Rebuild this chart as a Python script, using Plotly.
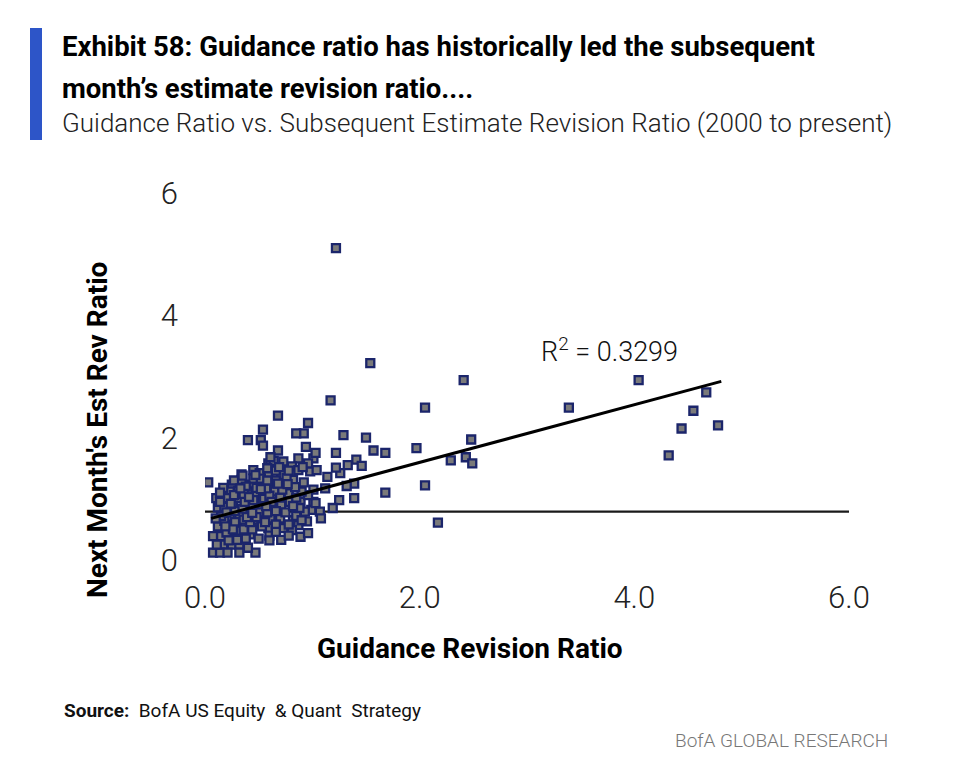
import plotly.graph_objects as go

# Scatter data: Guidance Revision Ratio (x) vs Next Month's Est Rev Ratio (y)
guidance_ratio = [
    1.22, 1.54, 2.41, 4.04, 4.67, 4.55, 4.44, 4.78, 4.32, 3.39, 2.05, 1.17, 2.48, 1.97, 2.29, 2.43, 2.49,
    2.05, 2.17, 1.68, 1.68, 1.57, 1.50, 1.29, 1.22, 1.41, 1.46, 1.33, 1.39, 1.39, 1.32, 1.25, 1.19, 1.26,
    1.22, 1.14, 1.12, 1.07, 1.08, 0.68, 0.96, 0.92, 0.85, 0.54, 0.40, 0.52, 0.54, 0.68, 0.03, 0.94,
    1.01, 0.98, 1.04, 1.01, 1.01, 0.99, 1.03, 1.03, 0.34, 0.59,
    0.45, 0.34, 0.43, 0.25, 0.31, 0.23, 0.40, 0.105, 0.20, 0.31, 0.48, 0.12, 0.18, 0.26, 0.40, 0.32, 0.48,
    0.23, 0.12, 0.23, 0.37, 0.48, 0.075, 0.15, 0.28, 0.42, 0.17, 0.25, 0.32, 0.075, 0.14, 0.21, 0.32, 0.47,
    0.87, 0.61, 0.73, 0.81, 0.96, 0.51, 0.59, 0.71, 0.87, 0.59, 0.50, 0.73, 0.82, 0.54, 0.65, 0.78, 0.89,
    0.96, 0.53, 0.64, 0.71, 0.79, 0.93, 0.51, 0.61, 0.70, 0.82, 0.59, 0.73, 0.87, 0.95, 0.53, 0.71, 0.89,
    0.96, 0.81,
    0.20, 0.30, 0.36, 0.45, 0.28, 0.18, 0.15, 0.28, 0.35, 0.43, 0.37, 0.45, 0.55, 0.60, 0.70, 0.85, 0.90,
    0.84, 0.66, 0.76, 0.45, 0.38, 0.52, 0.57, 0.27, 0.17, 0.14, 0.20, 0.58, 0.66, 0.75, 0.85, 0.88, 0.56,
    0.66, 0.44, 0.38, 0.50, 0.60, 0.60, 0.40, 0.36, 0.78, 0.90, 0.78, 0.66, 0.92, 0.78, 0.66, 0.91, 0.58,
    0.72, 0.62, 0.50, 0.42, 0.30, 0.22, 0.11, 0.10, 0.27, 0.36, 0.48, 0.48, 0.82, 0.64, 0.61,
    0.24, 0.33, 0.41, 0.52, 0.14, 0.35, 0.47, 0.58, 0.69, 0.26, 0.39, 0.57, 0.68, 0.77, 0.44, 0.19,
]
next_month_ratio = [
    5.10, 3.22, 2.94, 2.94, 2.74, 2.44, 2.15, 2.20, 1.71, 2.49, 2.49, 2.61, 1.97, 1.83, 1.63, 1.68, 1.58,
    1.22, 0.61, 1.10, 1.75, 1.79, 2.00, 2.04, 1.75, 1.64, 1.54, 1.55, 1.25, 1.01, 1.21, 0.98, 0.85, 1.42,
    1.51, 1.36, 1.17, 0.79, 0.68, 2.36, 2.24, 2.07, 2.07, 2.13, 1.96, 1.96, 1.87, 1.79, 1.27, 1.85,
    1.66, 1.45, 1.47, 1.15, 0.95, 0.82, 0.93, 1.75, 1.40, 1.58,
    1.47, 1.31, 1.23, 1.23, 1.13, 1.12, 1.12, 1.01, 1.01, 1.01, 1.06, 0.86, 0.87, 0.89, 0.75, 0.75, 0.82,
    0.71, 0.55, 0.56, 0.57, 0.57, 0.39, 0.39, 0.41, 0.42, 0.25, 0.25, 0.25, 0.12, 0.12, 0.12, 0.12, 0.12,
    1.66, 1.55, 1.61, 1.53, 1.58, 1.42, 1.42, 1.39, 1.47, 1.23, 1.23, 1.23, 1.31, 1.09, 1.12, 1.09, 0.95,
    1.06, 0.90, 0.93, 0.90, 0.95, 0.79, 0.68, 0.68, 0.68, 0.65, 0.52, 0.52, 0.57, 0.63, 0.55, 0.33, 0.38,
    0.44, 0.49,
    0.45, 0.48, 0.66, 0.66, 0.62, 0.64, 0.72, 0.80, 0.84, 0.90, 0.95, 0.98, 1.00, 1.05, 1.02, 1.02, 1.12,
    1.19, 1.30, 1.34, 1.33, 1.20, 1.33, 1.17, 1.30, 1.18, 0.95, 0.78, 0.78, 0.80, 0.78, 0.72, 0.85, 0.62,
    0.58, 0.50, 0.35, 0.35, 0.40, 0.32, 0.20, 0.50, 0.58, 0.65, 0.40, 0.46, 1.27, 1.46, 1.46, 1.52, 1.30,
    1.15, 0.95, 0.78, 0.62, 0.33, 0.32, 0.25, 0.68, 1.06, 1.08, 1.18, 0.70, 0.88, 1.62, 1.68,
    0.92, 1.17, 1.03, 1.16, 1.10, 1.38, 1.39, 1.50, 1.52, 0.50, 0.70, 0.88, 1.25, 1.24, 0.77, 0.55,
]

# Linear trend line endpoints and reference level
trend_x = [0.057, 4.81]
trend_y = [0.68, 2.92]
ref_x = [0.0, 6.0]
ref_y = [0.79, 0.79]
r2_text = "R<sup>2</sup> = 0.3299"
r2_pos = (3.77, 3.44)

x_tickvals = [0, 2, 4, 6]
x_ticktext = ["0.0", "2.0", "4.0", "6.0"]
y_tickvals = [0, 2, 4, 6]
y_ticktext = ["0", "2", "4", "6"]

FONT = "Roboto, Liberation Sans, sans-serif"

# page offset (browser body margin)
OFF = 8
W, H = 960 - 2 * OFF, 760 - 2 * OFF
L = 205 - OFF
T = 193 - OFF
R = W - (849 - OFF)
B = H - (560 - OFF)
pw, ph = W - L - R, H - T - B


def px(xp):
    return (xp - OFF - L) / pw


def py(yp):
    return (H - B - (yp - OFF)) / ph


fig = go.Figure()
fig.add_trace(go.Scatter(
    x=ref_x, y=ref_y, mode="lines",
    line=dict(color="#1a1a1a", width=2.2), hoverinfo="skip", showlegend=False))
fig.add_trace(go.Scatter(
    x=guidance_ratio, y=next_month_ratio, mode="markers",
    marker=dict(symbol="square", size=8, color="#7a7a7a",
                line=dict(color="#1b256b", width=2.3)),
    showlegend=False))
fig.add_trace(go.Scatter(
    x=trend_x, y=trend_y, mode="lines",
    line=dict(color="#000000", width=3), hoverinfo="skip", showlegend=False))

fig.add_annotation(x=r2_pos[0], y=r2_pos[1], xref="x", yref="y", text=r2_text,
                   showarrow=False, font=dict(family=FONT, size=27, color="#111111", weight=300))

# Title block
fig.add_shape(type="rect", xref="paper", yref="paper",
              x0=px(30), x1=px(42), y0=py(140), y1=py(28),
              fillcolor="#2d55c8", line=dict(width=0))
fig.add_annotation(xref="paper", yref="paper", x=px(60), y=py(47), xanchor="left", yanchor="middle",
                   text="<b>Exhibit 58: Guidance ratio has historically led the subsequent</b>",
                   showarrow=False, font=dict(family=FONT, size=27.5, color="#000000"))
fig.add_annotation(xref="paper", yref="paper", x=px(60), y=py(88), xanchor="left", yanchor="middle",
                   text="<b>month’s estimate revision ratio....</b>",
                   showarrow=False, font=dict(family=FONT, size=27.5, color="#000000"))
fig.add_annotation(xref="paper", yref="paper", x=px(60), y=py(123), xanchor="left", yanchor="middle",
                   text="Guidance Ratio vs. Subsequent Estimate Revision Ratio (2000 to present)",
                   showarrow=False, font=dict(family=FONT, size=26, color="#222222", weight=300))

# Axis titles
fig.add_annotation(xref="paper", yref="paper", x=px(470), y=py(648), xanchor="center", yanchor="middle",
                   text="<b>Guidance Revision Ratio</b>",
                   showarrow=False, font=dict(family=FONT, size=28, color="#000000"))
fig.add_annotation(xref="paper", yref="paper", x=px(97), y=py(430), xanchor="center", yanchor="middle",
                   text="<b>Next Month's Est Rev Ratio</b>", textangle=-90,
                   showarrow=False, font=dict(family=FONT, size=28, color="#000000"))

# Footer
fig.add_annotation(xref="paper", yref="paper", x=px(62), y=py(710), xanchor="left", yanchor="middle",
                   text="<b>Source:</b>  BofA US Equity  & Quant  Strategy",
                   showarrow=False, font=dict(family=FONT, size=19, color="#111111"))
fig.add_annotation(xref="paper", yref="paper", x=px(890), y=py(740), xanchor="right", yanchor="middle",
                   text="BofA GLOBAL RESEARCH",
                   showarrow=False, font=dict(family=FONT, size=19, color="#777777", weight=300))

fig.update_layout(
    width=W, height=H,
    margin=dict(l=L, r=R, t=T, b=B),
    paper_bgcolor="white", plot_bgcolor="white",
    showlegend=False,
    xaxis=dict(range=[0, 6], tickvals=x_tickvals, ticktext=x_ticktext,
               showgrid=False, zeroline=False, showline=False,
               ticks="", ticklabelstandoff=16,
               tickfont=dict(family=FONT, size=31, color="#222222", weight=300)),
    yaxis=dict(range=[0, 6], tickvals=y_tickvals, ticktext=y_ticktext,
               showgrid=False, zeroline=False, showline=False,
               ticks="", ticklabelstandoff=26,
               tickfont=dict(family=FONT, size=31, color="#222222", weight=300)),
)

fig.write_html("out.html")
